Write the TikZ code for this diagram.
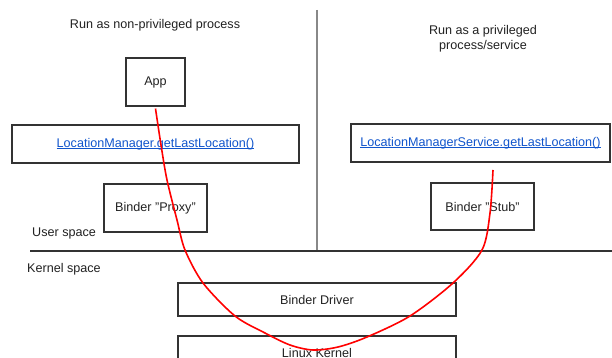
\documentclass[tikz,border=0pt]{standalone}
\usepackage{fontspec}
\setmainfont{Liberation Sans}
\definecolor{linkblue}{HTML}{1155CC}
\definecolor{boxline}{HTML}{333333}
\definecolor{sepgray}{HTML}{888888}
\definecolor{txt}{HTML}{222222}
\tikzset{
  box/.style={draw=boxline, line width=1.1pt, rectangle, inner sep=0pt, text=txt, font=\fontsize{12.6}{14.5}\selectfont},
  label/.style={text=txt, inner sep=0pt, font=\fontsize{12.6}{14.5}\selectfont, align=center},
  redline/.style={draw=red, line width=1.6pt},
}
\newcommand{\lnk}[1]{\textcolor{linkblue}{\underline{\smash{#1}}\vphantom{#1}}}
\begin{document}
\begin{tikzpicture}[x=1pt,y=-1pt]
\useasboundingbox (0,0) rectangle (612,358);
\fill[white] (0,0) rectangle (612,358);
% separators
\draw[sepgray, line width=1.2pt] (317,10) -- (317,251);
\draw[boxline, line width=1.4pt] (30,251) -- (612,251);
% headings
\node[label] (h1) at (155,25) {Run as non-privileged process};
\node[label] (h2) at (483,38.5) {Run as a privileged\\process/service};
\node[label, anchor=west] (us) at (32,233) {User space};
\node[label, anchor=west] (ks) at (27,269) {Kernel space};
% boxes
\node[box, minimum width=59pt, minimum height=48pt] (app) at (155.5,82) {App};
\node[box, minimum width=287pt, minimum height=38pt] (lm) at (155.5,144) {\lnk{LocationManager.getLastLocation()}};
\node[box, minimum width=259pt, minimum height=38pt] (lms) at (480.5,143) {\lnk{LocationManagerService.getLastLocation()}};
\node[box, minimum width=103pt, minimum height=48pt] (proxy) at (155.5,208) {Binder "Proxy"};
\node[box, minimum width=103pt, minimum height=47pt] (stub) at (482.5,206.5) {Binder "Stub"};
\node[box, minimum width=278pt, minimum height=33pt] (driver) at (317,299.5) {Binder Driver};
\node[box, minimum width=278pt, minimum height=33pt] (kernel) at (317,352.5) {Linux Kernel};
% red call path
\coordinate (e) at (493,170);
\draw[redline] plot[smooth, tension=0.5] coordinates {([yshift=-2pt]app.south) (161,145) (167,180) (177,220) (185,250) (203,283) (235,316) (265,333) (290,345) (313,350) (338,347) (367,337) (410,316) (453,283) (482,250) (490,213) (e)};
\end{tikzpicture}
\end{document}
